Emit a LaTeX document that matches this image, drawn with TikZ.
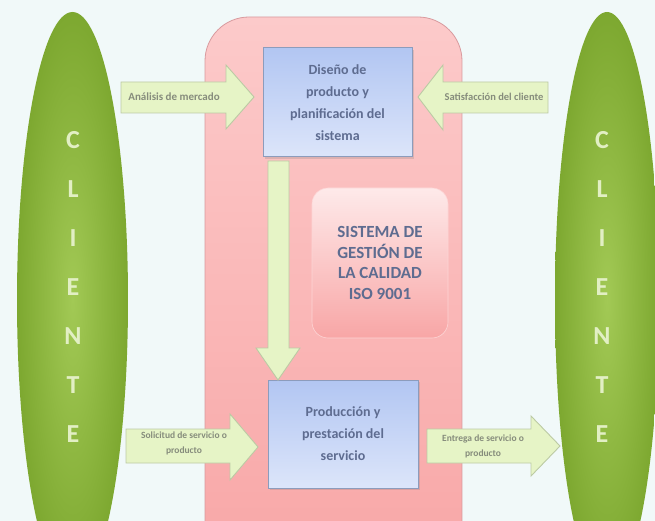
\documentclass[tikz,border=0pt]{standalone}
\usepackage{fontspec}
\setmainfont{Carlito}
\usetikzlibrary{shapes.geometric,shadows}
\definecolor{bgc}{HTML}{F1F9F9}
\definecolor{grnlight}{HTML}{A2C955}
\definecolor{grndark}{HTML}{7DA830}
\definecolor{pinktop}{HTML}{FCCACA}
\definecolor{pinkbot}{HTML}{F8A6A6}
\definecolor{pinkline}{HTML}{D89A9E}
\definecolor{bluetop}{HTML}{B2C6F2}
\definecolor{bluebot}{HTML}{DCE5FA}
\definecolor{blueline}{HTML}{8C9CBC}
\definecolor{boxtext}{HTML}{5E6C90}
\definecolor{arrfill}{HTML}{E6F4C6}
\definecolor{arrline}{HTML}{BCCAA4}
\definecolor{arrtext}{HTML}{868C7C}
\definecolor{lettc}{HTML}{E2EFC4}
\begin{document}
\begin{tikzpicture}[x=1pt,y=-1pt,
  client/.style={ellipse, draw=none, inner color=grnlight, outer color=grndark},
  letters/.style={align=center, text=lettc, font=\fontsize{26}{49}\selectfont\bfseries},
  bigpanel/.style={rectangle, rounded corners=44pt, draw=pinkline, line width=0.8pt,
     top color=pinktop, bottom color=pinkbot},
  bluebox/.style={rectangle, draw=blueline, line width=1pt, top color=bluetop, bottom color=bluebot,
     drop shadow={shadow xshift=2pt, shadow yshift=-2pt, opacity=0.25},
     text=boxtext, align=center, font=\fontsize{14}{22}\selectfont\bfseries},
  sysbox/.style={rectangle, rounded corners=16pt, draw=pinktop!80!white, line width=0.6pt,
     top color=pinktop!40!white, bottom color=pinkbot, text=boxtext, align=center,
     font=\fontsize{17}{20.5}\selectfont\bfseries},
  blockarrow/.style={draw=arrline, line width=0.9pt, fill=arrfill, line join=miter},
  arrlabel/.style={text=arrtext, align=center, font=\fontsize{9.5}{15}\selectfont\bfseries}
]
\useasboundingbox (0,0) rectangle (655,521);
\fill[bgc] (0,0) rectangle (655,521);
\begin{scope}
\clip (0,0) rectangle (655,521);
\node[client, minimum width=111pt, minimum height=576pt] (cl) at (72.5,300) {};
\node[client, minimum width=104pt, minimum height=576pt] (cr) at (607,300) {};
\node[bigpanel, minimum width=257pt, minimum height=560pt] (panel) at (333.5,297) {};
\end{scope}

\node[letters] (lettersL) at (73,287) {C\\L\\I\\E\\N\\T\\E};
\node[letters] (lettersR) at (602,287) {C\\L\\I\\E\\N\\T\\E};

\node[bluebox, minimum width=149pt, minimum height=109pt] (design) at (337.5,102.5)
  {Diseño de\\producto y\\planificación del\\sistema};
\node[bluebox, minimum width=150pt, minimum height=108pt] (prod) at (343,434)
  {Producción y\\prestación del\\servicio};
\node[sysbox, minimum width=136pt, minimum height=150pt] (sys) at (380,263)
  {SISTEMA DE\\GESTIÓN DE\\LA CALIDAD\\ISO 9001};

% down arrow
\draw[blockarrow] (268,161) -- (289,161) -- (289,348) -- (300,348) -- (278,380) -- (256,348) -- (268,348) -- cycle;

% left top arrow
\draw[blockarrow] (121,82) -- (226,82) -- (226,65) -- (254,97) -- (226,129) -- (226,113) -- (121,113) -- cycle;
\node[arrlabel, font=\fontsize{11}{15}\selectfont\bfseries] (lt) at (174,97) {Análisis de mercado};

% right top arrow
\draw[blockarrow] (548,82) -- (443,82) -- (443,65) -- (418,97) -- (443,130) -- (443,113) -- (548,113) -- cycle;
\node[arrlabel, font=\fontsize{10.5}{15}\selectfont\bfseries] (rt) at (494,97) {Satisfacción del cliente};

% bottom left arrow
\draw[blockarrow] (126,429) -- (230,429) -- (230,414) -- (258,447) -- (230,480) -- (230,463) -- (126,463) -- cycle;
\node[arrlabel] (lb) at (184,443) {Solicitud de servicio o\\producto};

% bottom right arrow
\draw[blockarrow] (427,429) -- (531,429) -- (531,416) -- (560,446) -- (531,476) -- (531,463) -- (427,463) -- cycle;
\node[arrlabel] (rb) at (483,446) {Entrega de servicio o\\producto};
\end{tikzpicture}
\end{document}
